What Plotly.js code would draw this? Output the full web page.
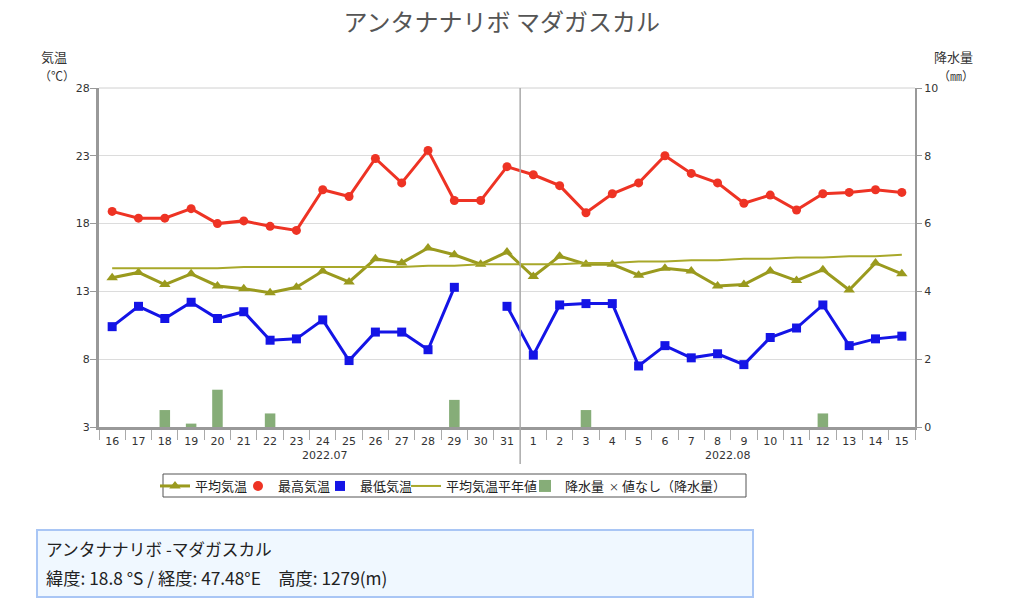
<!DOCTYPE html>
<html>
<head>
<meta charset="utf-8">
<script src="https://cdn.plot.ly/plotly-3.0.1.min.js"></script>
<style>html,body{margin:0;padding:0;background:#fff;}#chart{width:1024px;height:602px;}</style>
</head>
<body>
<div id="chart"></div>
<script>
const dayLabels = ["16","17","18","19","20","21","22","23","24","25","26","27","28","29","30","31",
  "1","2","3","4","5","6","7","8","9","10","11","12","13","14","15"];
const avgTemp = [14.0,14.4,13.5,14.3,13.4,13.2,12.9,13.3,14.5,13.7,15.4,15.1,16.2,15.7,15.0,15.9,
  14.1,15.6,15.0,15.0,14.2,14.7,14.5,13.4,13.5,14.5,13.8,14.6,13.1,15.1,14.3];
const maxTemp = [18.9,18.4,18.4,19.1,18.0,18.2,17.8,17.5,20.5,20.0,22.8,21.0,23.4,19.7,19.7,22.2,
  21.6,20.8,18.8,20.2,21.0,23.0,21.7,21.0,19.5,20.1,19.0,20.2,20.3,20.5,20.3];
const minTemp = [10.4,11.9,11.0,12.2,11.0,11.5,9.4,9.5,10.9,7.9,10.0,10.0,8.7,13.3,null,11.9,
  8.3,12.0,12.1,12.1,7.5,9.0,8.1,8.4,7.6,9.6,10.3,12.0,9.0,9.5,9.7];
const normalAvg = [14.7,14.7,14.7,14.7,14.7,14.8,14.8,14.8,14.8,14.8,14.8,14.8,14.9,14.9,15.0,15.0,
  15.0,15.0,15.1,15.1,15.2,15.2,15.3,15.3,15.4,15.4,15.5,15.5,15.6,15.6,15.7];
const precip = [0,0,0.5,0.1,1.1,0,0.4,0,0,0,0,0,0,0.8,0,0,
  0,0,0.5,0,0,0,0,0,0,0,0,0.4,0,0,0];
const monthLabels = ["2022.07","2022.08"];
const seriesNames = ["平均気温","最高気温","最低気温","平均気温平年値","降水量","値なし（降水量）"];
const titleText = "アンタナナリボ マダガスカル";
const leftAxisTitle = ["気温", "（℃）"];
const rightAxisTitle = ["降水量", "（㎜）"];
const stationName = "アンタナナリボ -マダガスカル";
const stationInfo = "緯度: 18.8 °S / 経度: 47.48°E　高度: 1279(m)";

const idx = dayLabels.map((d,i)=>i);
const JP = '"Noto Sans CJK JP", "Noto Sans", sans-serif';
const JPONLY = '"Noto Sans CJK JP"';
const TK = '"DejaVu Sans", Verdana, sans-serif';

const C_AVG='#9a9a1e', C_MAX='#ee3324', C_MIN='#1414e6', C_NORM='#a8a82a', C_BAR='#86ad78';

// plot area in px: left 99, right 915, top 88, bottom 427
const L=99, R=915, T=88, B=427, W=R-L, H=B-T;
const px = x => (x-L)/W;
const py = y => (B-y)/H;

const traces = [
  {x: idx, y: avgTemp, name: seriesNames[0], legend:'legend', type:'scatter', mode:'lines+markers',
   line:{color:C_AVG, width:3}, marker:{symbol:'triangle-up', size:10, color:C_AVG}},
  {x: idx, y: maxTemp, name: seriesNames[1], showlegend:false, legendgroup:'max', type:'scatter', mode:'lines+markers',
   line:{color:C_MAX, width:3}, marker:{symbol:'circle', size:9, color:C_MAX}},
  {x: idx, y: minTemp, name: seriesNames[2], showlegend:false, legendgroup:'min', type:'scatter', mode:'lines+markers', connectgaps:false,
   line:{color:C_MIN, width:3}, marker:{symbol:'square', size:9, color:C_MIN}},
  {x: idx, y: normalAvg, name: seriesNames[3], legend:'legend4', type:'scatter', mode:'lines',
   line:{color:C_NORM, width:2}},
  {x: idx, y: precip, name: seriesNames[4], legend:'legend5', type:'bar', yaxis:'y2', width:0.4,
   marker:{color:C_BAR}},
  // legend-only entries (compact symbols as in the reference legend)
  {x: [null], y: [null], name: seriesNames[1], legend:'legend2', legendgroup:'max', type:'scatter', mode:'markers',
   marker:{symbol:'circle', size:10, color:C_MAX}},
  {x: [null], y: [null], name: seriesNames[2], legend:'legend3', legendgroup:'min', type:'scatter', mode:'markers',
   marker:{symbol:'square', size:10, color:C_MIN}},
  {x: [null], y: [null], name: '<span style="font-size:10px">×</span> ' + seriesNames[5], legend:'legend6', type:'scatter', mode:'markers',
   marker:{symbol:'circle', size:1, color:'rgba(0,0,0,0)'}}
];

const legendTextStarts = [197, 280, 362, 448, 567, 611];
function mkLegend(textStart){
  return {orientation:'h', x:px(textStart-42), xanchor:'left', y:py(486), yanchor:'middle',
    borderwidth:0, bgcolor:'rgba(0,0,0,0)', font:{family:JP, size:13, color:'#222'}, itemwidth:30};
}

const layout = {
  width:1024, height:602,
  margin:{l:L, r:1024-R, t:T, b:602-B},
  paper_bgcolor:'#fff', plot_bgcolor:'#fff',
  showlegend:true,
  font:{family:JP, color:'#333'},
  title:{text:titleText, x:0.49, xanchor:'center', y:0.962, yanchor:'middle',
    font:{family:JP, size:24, color:'#555'}},
  xaxis:{range:[-0.5,30.5], tickmode:'array', tickvals:idx, ticktext:dayLabels,
    ticks:'', showgrid:false, zeroline:false, showline:true, linecolor:'#999', linewidth:3,
    tickfont:{family:TK, size:11, color:'#333'}, ticklabelstandoff:2,
    minor:{tick0:0.5, dtick:1, ticks:'outside', ticklen:10, tickwidth:1, tickcolor:'#aaa', showgrid:false},
    fixedrange:true},
  yaxis:{range:[3,28], tick0:3, dtick:5, ticks:'outside', ticklen:6, tickcolor:'#999',
    showline:true, linecolor:'#999', linewidth:3, gridcolor:'#dcdcdc', gridwidth:1, zeroline:false,
    tickfont:{family:TK, size:11, color:'#333'}, ticklabelstandoff:-2, fixedrange:true},
  yaxis2:{range:[0,10], tick0:0, dtick:2, overlaying:'y', side:'right', ticks:'outside', ticklen:5,
    tickcolor:'#999', showline:true, linecolor:'#999', linewidth:2, showgrid:false, zeroline:false,
    tickfont:{family:TK, size:11, color:'#333'}, fixedrange:true},
  legend: mkLegend(legendTextStarts[0]),
  legend2: mkLegend(legendTextStarts[1]),
  legend3: mkLegend(legendTextStarts[2]),
  legend4: mkLegend(legendTextStarts[3]),
  legend5: mkLegend(legendTextStarts[4]),
  legend6: mkLegend(legendTextStarts[5]),
  shapes:[
    {type:'line', xref:'paper', yref:'paper', x0:0, x1:1, y0:1, y1:1, line:{color:'#d0d0d0', width:1}},
    {type:'line', xref:'x', yref:'paper', x0:15.5, x1:15.5, y0:py(464), y1:1, line:{color:'#aaa', width:1.5}},
    {type:'rect', xref:'paper', yref:'paper', x0:px(163), x1:px(746), y0:py(474), y1:py(497),
      fillcolor:'rgba(0,0,0,0)', line:{color:'#555', width:1}},
    {type:'rect', xref:'paper', yref:'paper', x0:px(37), x1:px(753), y0:py(530), y1:py(597),
      fillcolor:'#f0f8ff', line:{color:'#a9c6f5', width:2}, layer:'below'}
  ],
  annotations:[
    {text:leftAxisTitle[0], xref:'paper', yref:'paper', x:px(54), y:py(56), xanchor:'center', yanchor:'middle', showarrow:false, font:{family:JP, size:13, color:'#333'}},
    {text:leftAxisTitle[1], xref:'paper', yref:'paper', x:px(57), y:py(76), xanchor:'center', yanchor:'middle', showarrow:false, font:{family:JPONLY, size:12, color:'#333'}},
    {text:rightAxisTitle[0], xref:'paper', yref:'paper', x:px(953), y:py(56), xanchor:'center', yanchor:'middle', showarrow:false, font:{family:JP, size:13, color:'#333'}},
    {text:rightAxisTitle[1], xref:'paper', yref:'paper', x:px(956), y:py(76), xanchor:'center', yanchor:'middle', showarrow:false, font:{family:JPONLY, size:12, color:'#333'}},
    {text:monthLabels[0], xref:'x', yref:'paper', x:8.1, y:py(455), xanchor:'center', yanchor:'middle', showarrow:false, font:{family:TK, size:11, color:'#333'}},
    {text:monthLabels[1], xref:'x', yref:'paper', x:23.4, y:py(455), xanchor:'center', yanchor:'middle', showarrow:false, font:{family:TK, size:11, color:'#333'}},
    {text:stationName, xref:'paper', yref:'paper', x:px(44), y:py(549), xanchor:'left', yanchor:'middle', showarrow:false, font:{family:JP, size:16.7, color:'#222'}},
    {text:stationInfo, xref:'paper', yref:'paper', x:px(44), y:py(577), xanchor:'left', yanchor:'middle', showarrow:false, font:{family:JP, size:17.3, color:'#222'}}
  ]
};

Plotly.newPlot('chart', traces, layout, {staticPlot:true, displayModeBar:false});
</script>
</body>
</html>
